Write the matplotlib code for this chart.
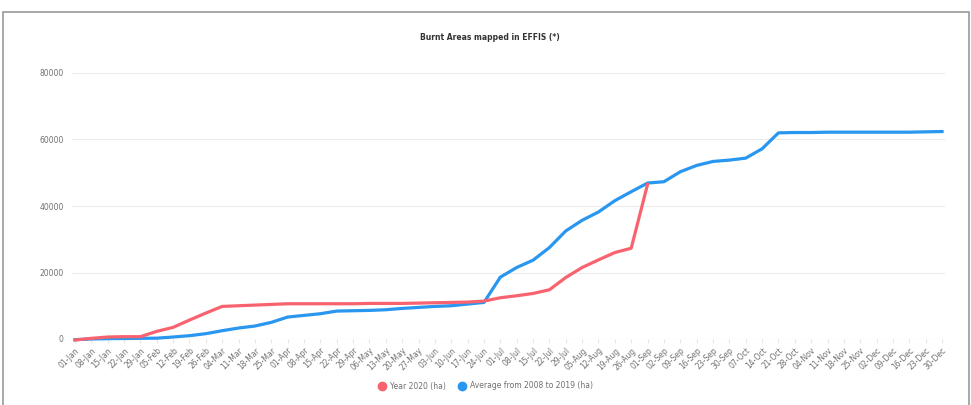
import matplotlib
matplotlib.use("Agg")
import matplotlib.pyplot as plt
from matplotlib.patches import Rectangle
from matplotlib.lines import Line2D

# weekly labels (plus the 01-Sep "today" point)
dates = ["01-Jan", "08-Jan", "15-Jan", "22-Jan", "29-Jan", "05-Feb", "12-Feb", "19-Feb", "26-Feb",
         "04-Mar", "11-Mar", "18-Mar", "25-Mar", "01-Apr", "08-Apr", "15-Apr", "22-Apr", "29-Apr",
         "06-May", "13-May", "20-May", "27-May", "03-Jun", "10-Jun", "17-Jun", "24-Jun",
         "01-Jul", "08-Jul", "15-Jul", "22-Jul", "29-Jul", "05-Aug", "12-Aug", "19-Aug", "26-Aug",
         "01-Sep", "02-Sep", "09-Sep", "16-Sep", "23-Sep", "30-Sep", "07-Oct", "14-Oct", "21-Oct",
         "28-Oct", "04-Nov", "11-Nov", "18-Nov", "25-Nov", "02-Dec", "09-Dec", "16-Dec", "23-Dec",
         "30-Dec"]

# burnt area 2020 (ha), up to 01-Sep
year_2020 = [-300, 200, 600, 700, 700, 2300, 3500, 5700, 7800, 9800, 10000, 10200, 10400, 10600,
             10600, 10600, 10600, 10600, 10700, 10700, 10700, 10800, 10900, 11000, 11100, 11400,
             12400, 13000, 13700, 14800, 18500, 21500, 23800, 26000, 27300, 46500]

# average 2008-2019 (ha)
avg_0819 = [-200, 0, 100, 150, 200, 250, 600, 1000, 1600, 2500, 3300, 3900, 5000, 6600,
            7100, 7600, 8400, 8500, 8600, 8800, 9200, 9500, 9800, 10000, 10500, 11000,
            18600, 21500, 23700, 27500, 32500, 35700, 38200, 41600, 44300, 46900, 47300, 50300,
            52200, 53400, 53800, 54400, 57200, 62000, 62100, 62100, 62200, 62200, 62200, 62200,
            62200, 62200, 62300, 62400]

red = "#f8636f"
blue = "#2996ef"

fig = plt.figure(figsize=(9.71, 4.05), dpi=100)
fig.patches.append(Rectangle((3 / 971, -0.05), 966 / 971, 1.05 - 12 / 405,
                             transform=fig.transFigure, fill=False,
                             edgecolor="#9a9a9a", linewidth=1.2))

ax = fig.add_axes([72 / 971, 66 / 405, 873 / 971, 266 / 405])
x = list(range(len(dates)))
ax.plot(x, avg_0819, color=blue, linewidth=2.3, clip_on=False, zorder=3)
ax.plot(x[:len(year_2020)], year_2020, color=red, linewidth=2.3, clip_on=False, zorder=4)

ax.set_xlim(-0.18, len(dates) - 1 + 0.18)
ax.set_ylim(0, 80000)
ax.set_yticks([0, 20000, 40000, 60000, 80000])
ax.set_yticklabels(["0", "20000", "40000", "60000", "80000"])
ax.set_xticks(x)
ax.set_xticklabels(dates, rotation=45, ha="right", rotation_mode="anchor")

ax.grid(axis="y", color="#ececec", linewidth=0.8)
ax.grid(axis="x", visible=False)
for s in ax.spines.values():
    s.set_visible(False)
ax.tick_params(axis="y", length=0, pad=6, labelsize=5.5, labelcolor="#707070")
ax.tick_params(axis="x", length=3, color="#e6e6e6", pad=2, labelsize=5.5, labelcolor="#707070")
ax.axhline(0, color="#e6e6e6", linewidth=0.8, zorder=1)

fig.text(0.505, 1 - 37 / 405, "Burnt Areas mapped in EFFIS (*)", ha="center", va="center",
         fontsize=5.5, fontweight="bold", color="#333333")

handles = [Line2D([], [], marker="o", linestyle="none", markersize=6,
                  markerfacecolor=red, markeredgecolor=red),
           Line2D([], [], marker="o", linestyle="none", markersize=6,
                  markerfacecolor=blue, markeredgecolor=blue)]
fig.legend(handles, ["Year 2020 (ha)", "Average from 2008 to 2019 (ha)"],
           loc="center", bbox_to_anchor=(0.5, 1 - 386 / 405), ncol=2, frameon=False,
           fontsize=5.5, labelcolor="#707070", handletextpad=0.5, columnspacing=1.6,
           handlelength=1.0)

fig.savefig("out.png", dpi=100, facecolor="white")
